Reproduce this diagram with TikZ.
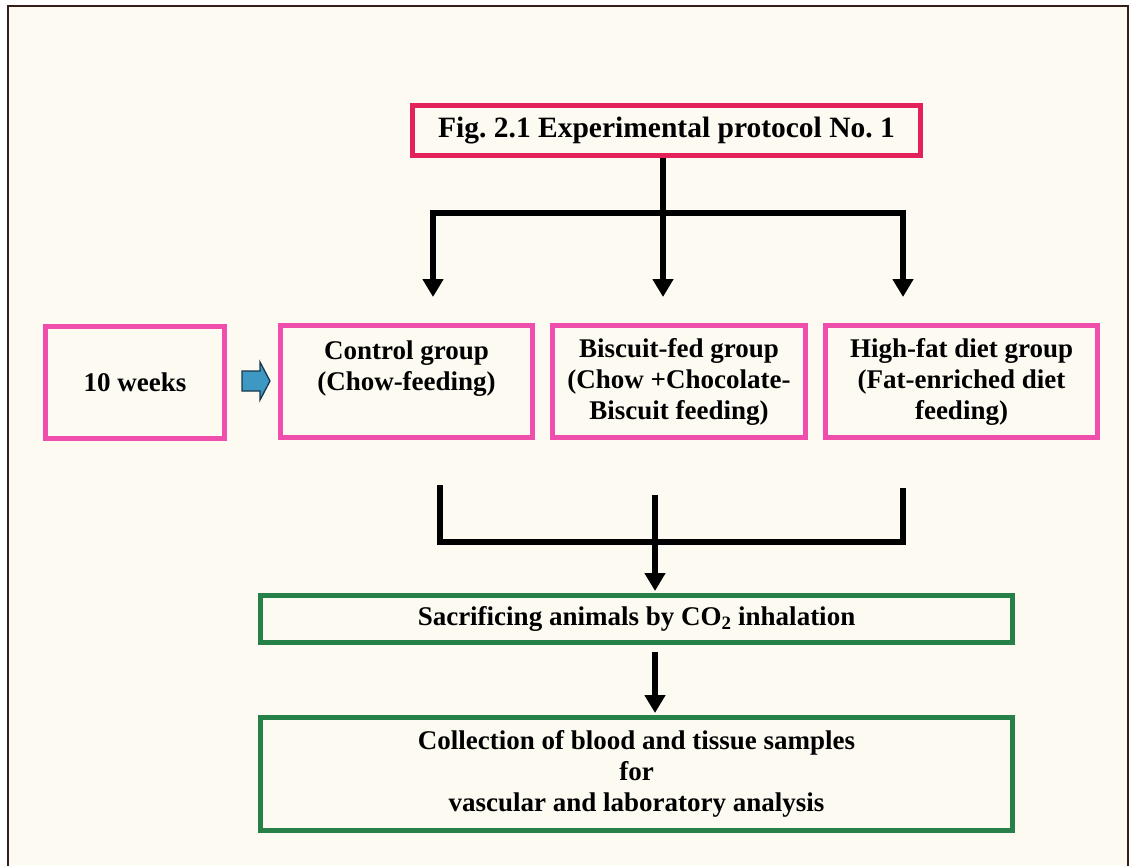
\documentclass[tikz,border=0pt]{standalone}
\usepackage{fontspec}
\setmainfont{Liberation Serif}
\usetikzlibrary{arrows.meta}
\frenchspacing

\definecolor{paper}{RGB}{253,250,242}
\definecolor{framecol}{RGB}{55,28,28}
\definecolor{titlered}{RGB}{228,34,90}
\definecolor{grouppink}{RGB}{240,78,172}
\definecolor{stepgreen}{RGB}{38,128,72}
\definecolor{arrowblue}{RGB}{62,152,196}
\definecolor{arrowedge}{RGB}{25,55,75}

\begin{document}
\begin{tikzpicture}[x=1pt,y=-1pt,
  txt/.style={font=\bfseries\fontsize{27}{31}\selectfont, align=center, inner sep=0pt},
  titlebox/.style={txt, draw=titlered, line width=5pt,
    font=\bfseries\fontsize{29.5}{34}\selectfont},
  groupbox/.style={txt, draw=grouppink, line width=5pt, minimum height=112pt},
  stepbox/.style={txt, draw=stepgreen, line width=5pt},
  flow/.style={draw=black, line width=5.5pt, line join=miter},
  tip/.style={-{Triangle[width=20pt,length=18pt]}},
  blockarrow/.style={fill=arrowblue, draw=arrowedge, line width=1.3pt, line join=miter}
]
% page, cream sheet and its frame
\useasboundingbox (0,0) rectangle (1131,865);
\fill[white] (0,0) rectangle (1131,865);
\fill[paper] (8,6) rectangle (1128,865);
\draw[framecol, line width=2pt] (8,870) -- (8,6) -- (1128,6) -- (1128,870);

% boxes
\node[titlebox, minimum width=508pt, minimum height=50pt] (title) at (666.5,130.5)
  {Fig. 2.1 Experimental protocol No. 1};

\node[groupbox, minimum width=179pt] (weeks) at (135,382.5) {10 weeks};
\node[groupbox, minimum width=252pt] (control) at (406.5,381.5)
  {Control group\\(Chow-feeding)\\\mbox{}};
\node[groupbox, minimum width=253pt] (biscuit) at (679,381.5)
  {Biscuit-fed group\\(Chow +Chocolate-\\Biscuit feeding)};
\node[groupbox, minimum width=272pt] (highfat) at (961.5,381.5)
  {High-fat diet group\\(Fat-enriched diet\\feeding)};

\node[stepbox, minimum width=752pt, minimum height=47pt] (sacrifice) at (636.5,619)
  {Sacrificing animals by CO\textsubscript{2} inhalation};
\node[stepbox, minimum width=752pt, minimum height=113pt] (collect) at (636.5,774)
  {Collection of blood and tissue samples\\for\\vascular and laboratory analysis};

% branching from the title to the three diet groups
\coordinate (split) at (663,213);
\coordinate (ctltip) at (433,297);
\coordinate (bistip) at (663,297);
\coordinate (hftip) at (903,297);
\draw[flow] (title.south -| split) -- (split);
\draw[flow, tip] (split) -| (ctltip);
\draw[flow, tip] (split) -- (bistip);
\draw[flow, tip] (split) -| (hftip);

% block arrow from the age box to the control group
\draw[blockarrow] (242,371) -- (260,371) -- (260,362) -- (270,381)
  -- (260,400) -- (260,391) -- (242,391) -- cycle;

% groups joined and led to the sacrifice step
\coordinate (jl) at (440,485);
\coordinate (jr) at (903,488);
\coordinate (jm) at (655,495);
\coordinate (jbar) at (655,542);
\draw[flow] (jl) -- (jl |- jbar) -- (jr |- jbar) -- (jr);
\draw[flow, tip, shorten >=2pt] (jm) -- (jm |- sacrifice.north);
\draw[flow, tip, shorten <=7pt, shorten >=2pt]
  (sacrifice.south -| jm) -- (collect.north -| jm);
\end{tikzpicture}
\end{document}
